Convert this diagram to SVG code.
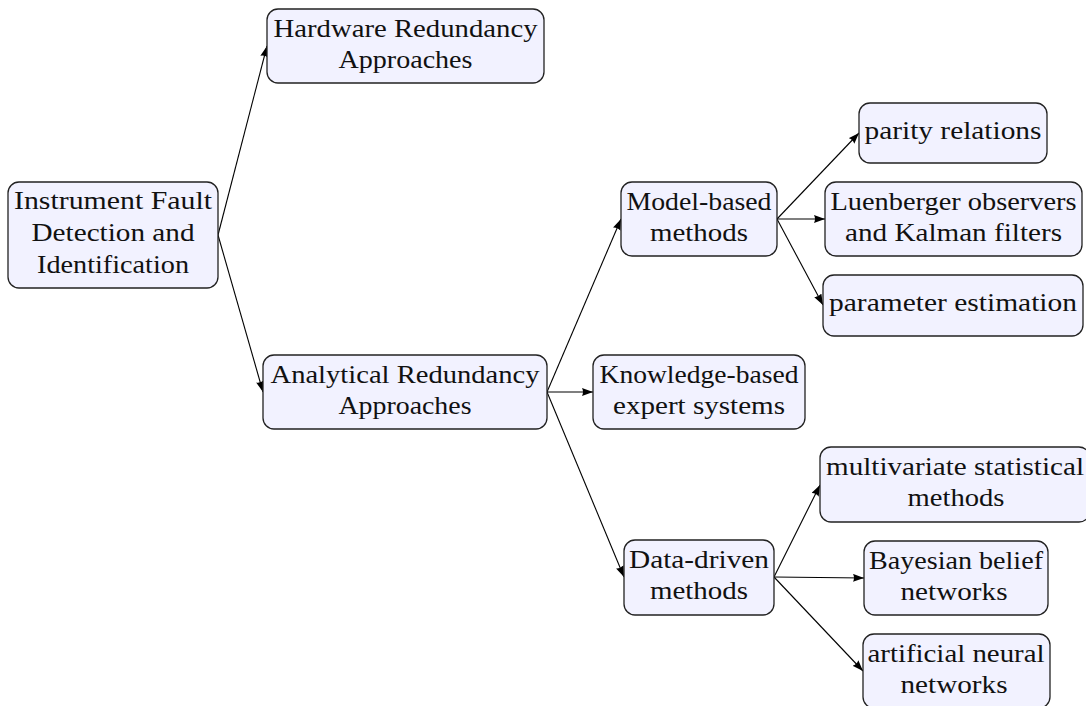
<svg xmlns="http://www.w3.org/2000/svg" width="1086" height="706" viewBox="0 0 1086 706">
<defs>
<style>
.box{fill:#F2F2FF;stroke:#222;stroke-width:1.3}
.t{font-family:'Liberation Serif','DejaVu Serif',serif;font-size:25px;fill:#111;text-anchor:middle}
.c{fill:none;stroke:#000;stroke-width:1.1}
</style>
<marker id="ah" markerUnits="userSpaceOnUse" markerWidth="12" markerHeight="10" refX="11" refY="4" orient="auto">
<path d="M0,0 L11,4 L0,8 Q2,4 0,0 z" fill="#000"/>
</marker>
</defs>
<rect width="1086" height="706" fill="#fff"/>
<g id="connectors">
<line class="c" x1="218" y1="235" x2="267" y2="46" marker-end="url(#ah)"/>
<line class="c" x1="218" y1="235" x2="263" y2="392" marker-end="url(#ah)"/>
<line class="c" x1="547" y1="392" x2="621" y2="219" marker-end="url(#ah)"/>
<line class="c" x1="547" y1="392" x2="593" y2="392" marker-end="url(#ah)"/>
<line class="c" x1="547" y1="392" x2="624" y2="577" marker-end="url(#ah)"/>
<line class="c" x1="777" y1="219" x2="859" y2="133" marker-end="url(#ah)"/>
<line class="c" x1="777" y1="219" x2="825" y2="219" marker-end="url(#ah)"/>
<line class="c" x1="777" y1="219" x2="823" y2="305" marker-end="url(#ah)"/>
<line class="c" x1="774" y1="577" x2="820" y2="485" marker-end="url(#ah)"/>
<line class="c" x1="774" y1="577" x2="864" y2="578" marker-end="url(#ah)"/>
<line class="c" x1="774" y1="577" x2="863" y2="671" marker-end="url(#ah)"/>
</g>
<g font-family="Liberation Serif, serif">
<g id="ifdi">
<rect class="box" x="8" y="182" width="210" height="106" rx="11"/>
<text class="t" x="113" y="209" textLength="198" lengthAdjust="spacingAndGlyphs">Instrument Fault</text>
<text class="t" x="113" y="241" textLength="163" lengthAdjust="spacingAndGlyphs">Detection and</text>
<text class="t" x="113" y="273" textLength="152" lengthAdjust="spacingAndGlyphs">Identification</text>
</g>
<g id="hardware">
<rect class="box" x="267" y="9" width="277" height="74" rx="11"/>
<text class="t" x="405.5" y="37" textLength="264" lengthAdjust="spacingAndGlyphs">Hardware Redundancy</text>
<text class="t" x="405.5" y="68" textLength="134" lengthAdjust="spacingAndGlyphs">Approaches</text>
</g>
<g id="analytical">
<rect class="box" x="263" y="355" width="284" height="74" rx="11"/>
<text class="t" x="405" y="383" textLength="269" lengthAdjust="spacingAndGlyphs">Analytical Redundancy</text>
<text class="t" x="405" y="414" textLength="133" lengthAdjust="spacingAndGlyphs">Approaches</text>
</g>
<g id="model">
<rect class="box" x="621" y="182" width="156" height="74" rx="11"/>
<text class="t" x="699" y="210" textLength="145" lengthAdjust="spacingAndGlyphs">Model-based</text>
<text class="t" x="699" y="241" textLength="98" lengthAdjust="spacingAndGlyphs">methods</text>
</g>
<g id="knowledge">
<rect class="box" x="593" y="355" width="212" height="74" rx="11"/>
<text class="t" x="699" y="383" textLength="199" lengthAdjust="spacingAndGlyphs">Knowledge-based</text>
<text class="t" x="699" y="414" textLength="172" lengthAdjust="spacingAndGlyphs">expert systems</text>
</g>
<g id="data">
<rect class="box" x="624" y="540" width="150" height="75" rx="11"/>
<text class="t" x="699" y="568" textLength="140" lengthAdjust="spacingAndGlyphs">Data-driven</text>
<text class="t" x="699" y="599" textLength="98" lengthAdjust="spacingAndGlyphs">methods</text>
</g>
<g id="parity">
<rect class="box" x="859" y="103" width="188" height="60" rx="11"/>
<text class="t" x="953" y="139" textLength="177" lengthAdjust="spacingAndGlyphs">parity relations</text>
</g>
<g id="luenberger">
<rect class="box" x="825" y="182" width="257" height="74" rx="11"/>
<text class="t" x="953.5" y="210" textLength="246" lengthAdjust="spacingAndGlyphs">Luenberger observers</text>
<text class="t" x="953.5" y="241" textLength="217" lengthAdjust="spacingAndGlyphs">and Kalman filters</text>
</g>
<g id="parameter">
<rect class="box" x="823" y="275" width="260" height="61" rx="11"/>
<text class="t" x="953" y="311" textLength="248" lengthAdjust="spacingAndGlyphs">parameter estimation</text>
</g>
<g id="multivariate">
<rect class="box" x="820" y="447" width="270" height="75" rx="11"/>
<text class="t" x="955" y="475" textLength="258" lengthAdjust="spacingAndGlyphs">multivariate statistical</text>
<text class="t" x="956" y="506" textLength="97" lengthAdjust="spacingAndGlyphs">methods</text>
</g>
<g id="bayesian">
<rect class="box" x="864" y="541" width="184" height="74" rx="11"/>
<text class="t" x="956" y="569" textLength="174" lengthAdjust="spacingAndGlyphs">Bayesian belief</text>
<text class="t" x="954" y="600" textLength="107" lengthAdjust="spacingAndGlyphs">networks</text>
</g>
<g id="artificial">
<rect class="box" x="863" y="634" width="187" height="74" rx="11"/>
<text class="t" x="956" y="662" textLength="177" lengthAdjust="spacingAndGlyphs">artificial neural</text>
<text class="t" x="954" y="693" textLength="107" lengthAdjust="spacingAndGlyphs">networks</text>
</g>
</g>
</svg>
